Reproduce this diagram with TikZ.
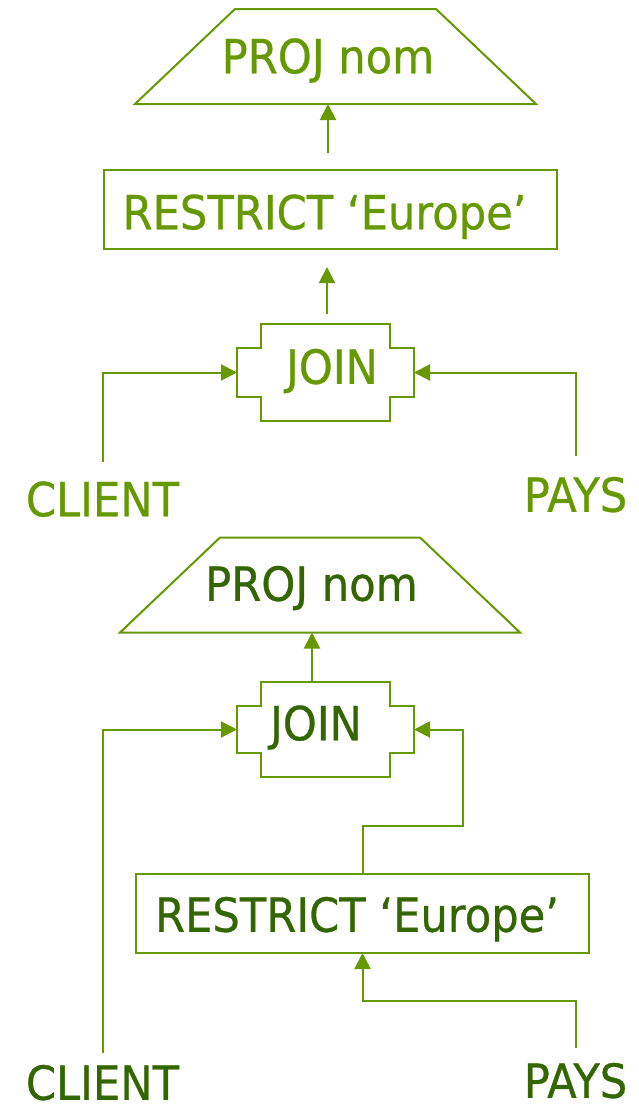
\documentclass[tikz,border=0pt]{standalone}
\usepackage{fontspec}
\setmainfont[FakeStretch=0.92,FakeBold=0.6]{DejaVu Sans}
\usetikzlibrary{arrows.meta,calc}
\definecolor{lnc}{RGB}{102,153,0}
\definecolor{txtA}{RGB}{102,153,0}
\definecolor{txtB}{RGB}{51,102,0}
\newcommand{\shtxt}[3]{\makebox[0pt]{\hspace*{#1}\hspace*{#1}\raisebox{#2}[0pt][0pt]{#3}}}
\newcommand{\joinoutline}[1]{%
  \draw[ln] ([xshift=24pt]#1.north west) -- ([xshift=-24pt]#1.north east)
    -- ([xshift=-24pt,yshift=-24pt]#1.north east) -- ([yshift=-24pt]#1.north east)
    -- ([yshift=24pt]#1.south east) -- ([xshift=-24pt,yshift=24pt]#1.south east)
    -- ([xshift=-24pt]#1.south east) -- ([xshift=24pt]#1.south west)
    -- ([xshift=24pt,yshift=24pt]#1.south west) -- ([yshift=24pt]#1.south west)
    -- ([yshift=-24pt]#1.north west) -- ([xshift=24pt,yshift=-24pt]#1.north west) -- cycle;}
\newcommand{\projoutline}[1]{%
  \draw[ln, line join=miter] ([xshift=100pt]#1.north west) -- ([xshift=-100pt]#1.north east)
    -- (#1.south east) -- (#1.south west) -- cycle;}
\tikzset{
  ln/.style={draw=lnc, line width=2pt},
  arr/.style={ln, -{Triangle[length=16pt,width=16pt]}},
  base/.style={inner sep=0pt, outer sep=0pt, text height=33.5pt, text depth=0pt,
    font=\fontsize{47}{50}\selectfont},
  projbox/.style={base, rectangle, minimum height=95pt},
  restrictbox/.style={base, rectangle, minimum width=453pt, minimum height=79pt, ln},
  joinbox/.style={base, rectangle, minimum width=177pt},
  leaf/.style={base},
}
\begin{document}
\begin{tikzpicture}[x=1pt,y=-1pt]
\useasboundingbox (0,0) rectangle (639,1111);
% ---------- top plan ----------
\node[projbox, minimum width=401pt, text=txtA] (proj1) at (335.5,56.5) {\shtxt{-7.5pt}{0pt}{PROJ nom}};
\projoutline{proj1}
\node[restrictbox, text=txtA] (restr1) at (330.5,209.5) {\shtxt{-6pt}{-3pt}{RESTRICT ‘Europe’}};
\node[joinbox, minimum height=97pt, text=txtA] (join1) at (325.5,372.5) {\shtxt{6.5pt}{5.5pt}{JOIN}};
\joinoutline{join1}
\node[leaf, text=txtA] (client1) at (102.5,499.5) {CLIENT};
\node[leaf, text=txtA] (pays1) at (575.5,495) {PAYS};
\draw[arr, shorten <=17pt] (restr1.north) ++(-2.5pt,0) coordinate (r1n) (r1n) -- (r1n |- proj1.south);
\draw[arr, shorten <=10pt, shorten >=18pt] ([xshift=1.5pt]join1.north) -- ([xshift=1.5pt]join1.north |- restr1.south);
\draw[arr, shorten <=21pt] (client1.north) |- (join1.west);
\draw[arr, shorten <=22pt] (pays1.north) |- (join1.east);
% ---------- bottom plan ----------
\node[projbox, minimum width=400pt, text=txtB] (proj2) at (320,585) {\shtxt{-8.5pt}{1pt}{PROJ nom}};
\projoutline{proj2}
\node[joinbox, minimum height=95pt, text=txtB] (join2) at (325.5,729.5) {\shtxt{-9.5pt}{6pt}{JOIN}};
\joinoutline{join2}
\node[restrictbox, text=txtB] (restr2) at (362.5,913.5) {\shtxt{-5.5pt}{-1.5pt}{RESTRICT ‘Europe’}};
\node[leaf, text=txtB] (client2) at (102.5,1083) {CLIENT};
\node[leaf, text=txtB] (pays2) at (575.5,1081) {PAYS};
\draw[arr, shorten <=0pt] ([xshift=-13.5pt]join2.north) -- ([xshift=-13.5pt]join2.north |- proj2.south);
\draw[arr, shorten <=13pt] (client2.north) |- (join2.west);
\draw[arr] (restr2.north) -- ++(0,-48) -- ++(100,0) |- (join2.east);
\draw[arr, shorten <=16.5pt] (pays2.north) -- ++(0,-63.25) -| (restr2.south);
\end{tikzpicture}
\end{document}
